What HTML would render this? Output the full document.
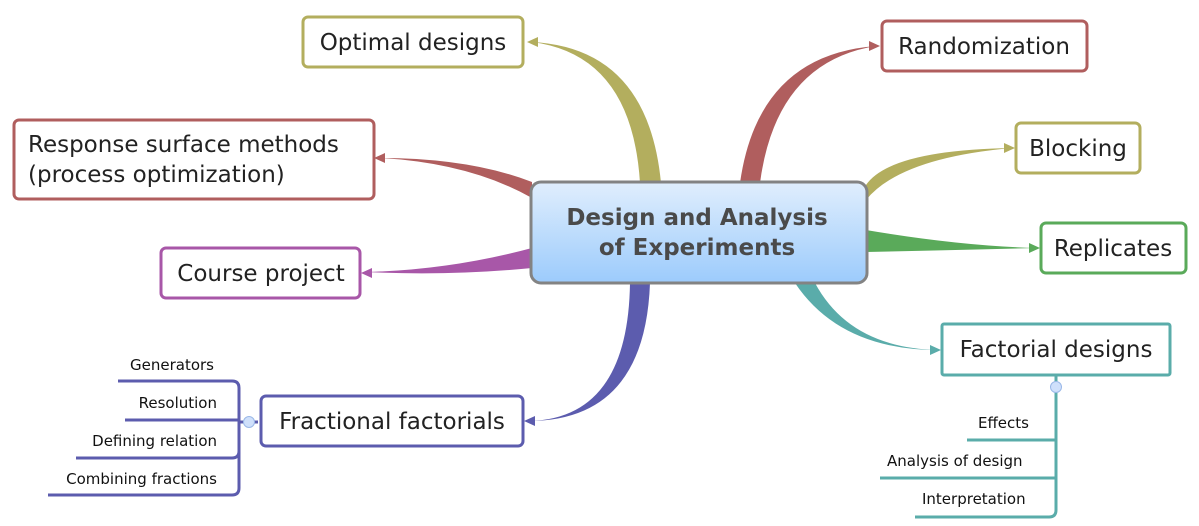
<!DOCTYPE html>
<html><head><style>body{margin:0;background:#fff}svg{display:block}text{font-family:"DejaVu Sans","Liberation Sans",sans-serif}</style></head><body>
<svg width="1199" height="526" viewBox="0 0 1199 526" xmlns="http://www.w3.org/2000/svg">
<defs><linearGradient id="g" x1="0" y1="0" x2="0" y2="1"><stop offset="0" stop-color="#e0eefd"/><stop offset="1" stop-color="#9ccbfc"/></linearGradient></defs>
<!-- connectors -->
<path d="M640,183 Q632,55 532,42 Q648,48 661,183Z" fill="#b3ae5e"/>
<path d="M740,183 Q758,55 876,46 Q776,62 760,183Z" fill="#b05e5e"/>
<path d="M532,182 Q470,158 380,158 Q470,163 532,198Z" fill="#b05e5e"/>
<path d="M866,185 Q890,150 1012,148 Q900,158 866,200Z" fill="#b3ae5e"/>
<path d="M866,230 Q960,246 1037,248 Q960,250 866,252Z" fill="#5aaa5a"/>
<path d="M532,248 Q450,270 366,272 Q450,276 532,268Z" fill="#a857a8"/>
<path d="M795,283 Q840,350 938,350 Q850,348 815,283Z" fill="#5aacaa"/>
<path d="M630,283 Q628,418 530,421 Q645,420 650,283Z" fill="#5c5cae"/>
<g fill="#fff" stroke-width="0">
<polygon points="527,42 538,37 538,47" fill="#b3ae5e"/>
<polygon points="880,46 869,41 869,51" fill="#b05e5e"/>
<polygon points="374,158 385,153 385,163" fill="#b05e5e"/>
<polygon points="1015,148 1004,143 1004,153" fill="#b3ae5e"/>
<polygon points="1040,248 1029,243 1029,253" fill="#5aaa5a"/>
<polygon points="361,273 372,268 372,278" fill="#a857a8"/>
<polygon points="941,350 930,345 930,355" fill="#5aacaa"/>
<polygon points="524,421 535,416 535,426" fill="#5c5cae"/>
</g>
<!-- center -->
<rect x="531" y="182" width="336" height="101" rx="10" fill="url(#g)" stroke="#838383" stroke-width="3"/>
<text x="697" y="225" font-size="23" font-weight="bold" fill="#4a4a4a" text-anchor="middle">Design and Analysis</text>
<text x="697" y="255" font-size="23" font-weight="bold" fill="#4a4a4a" text-anchor="middle">of Experiments</text>
<!-- nodes -->
<g fill="#fff" stroke-width="3">
<rect x="303" y="17" width="220" height="50" rx="5" stroke="#b3ae5e"/>
<rect x="882" y="21" width="205" height="50" rx="5" stroke="#b05e5e"/>
<rect x="14" y="120" width="360" height="79" rx="5" stroke="#b05e5e"/>
<rect x="1016" y="123" width="124" height="50" rx="5" stroke="#b3ae5e"/>
<rect x="1041" y="223" width="145" height="50" rx="5" stroke="#5aaa5a"/>
<rect x="161" y="248" width="199" height="50" rx="5" stroke="#a857a8"/>
<rect x="942" y="324" width="228" height="51" rx="2" stroke="#5aacaa"/>
<rect x="261" y="396" width="262" height="50" rx="5" stroke="#5c5cae"/>
</g>
<g font-size="23" fill="#222">
<text x="413" y="50" text-anchor="middle">Optimal designs</text>
<text x="984" y="54" text-anchor="middle">Randomization</text>
<text x="28" y="152">Response surface methods</text>
<text x="28" y="182">(process optimization)</text>
<text x="1078" y="156" text-anchor="middle">Blocking</text>
<text x="1113" y="256" text-anchor="middle">Replicates</text>
<text x="261" y="281" text-anchor="middle">Course project</text>
<text x="1056" y="357" text-anchor="middle">Factorial designs</text>
<text x="392" y="429" text-anchor="middle">Fractional factorials</text>
</g>
<!-- fractional subtopics -->
<g fill="none" stroke="#5c5cae" stroke-width="3">
<path d="M118,381 H232 Q239,381 239,388 V488 Q239,495 232,495 H48"/>
<path d="M125,420 H239 M76,458 H232 Q239,458 239,451"/>
<path d="M239,422 H258"/>
</g>
<circle cx="249" cy="422" r="5.5" fill="#cfe0fb" stroke="#9ab8e8"/>
<g font-size="15" fill="#111" text-anchor="end">
<text x="214" y="370">Generators</text>
<text x="217" y="408">Resolution</text>
<text x="217" y="446">Defining relation</text>
<text x="217" y="484">Combining fractions</text>
</g>
<!-- factorial subtopics -->
<g fill="none" stroke="#5aacaa" stroke-width="3">
<path d="M1056,376 V510 Q1056,517 1049,517 H915"/>
<path d="M967,440 H1056 M880,478 H1056"/>
</g>
<circle cx="1056" cy="387" r="5.5" fill="#cfe0fb" stroke="#9ab8e8"/>
<g font-size="15" fill="#111">
<text x="978" y="428">Effects</text>
<text x="887" y="466">Analysis of design</text>
<text x="922" y="504">Interpretation</text>
</g>
</svg>
</body></html>
